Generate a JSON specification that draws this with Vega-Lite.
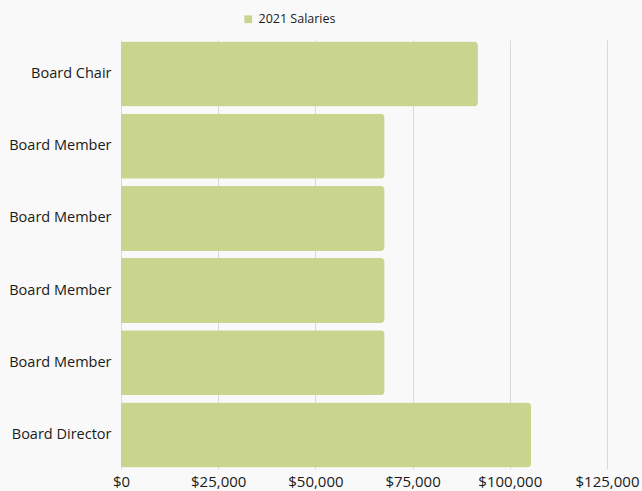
{
  "$schema": "https://vega.github.io/schema/vega-lite/v6.json",
  "autosize": {"type": "none"},
  "width": 486,
  "height": 429,
  "padding": {"left": 121, "top": 40, "right": 35, "bottom": 22},
  "background": "#f9f9f9",
  "config": {
    "view": {"stroke": null},
    "font": "Open Sans",
    "axis": {"labelFont": "Open Sans", "labelColor": "#1a1a1a", "labelFontSize": 14}
  },
  "data": {
    "values": [
      {"role": "Board Chair|0", "salary": 91800, "series": "2021 Salaries"},
      {"role": "Board Member|1", "salary": 67800, "series": "2021 Salaries"},
      {"role": "Board Member|2", "salary": 67800, "series": "2021 Salaries"},
      {"role": "Board Member|3", "salary": 67800, "series": "2021 Salaries"},
      {"role": "Board Member|4", "salary": 67800, "series": "2021 Salaries"},
      {"role": "Board Director|5", "salary": 105500, "series": "2021 Salaries"}
    ]
  },
  "mark": {"type": "bar", "cornerRadiusEnd": 4},
  "encoding": {
    "y": {
      "field": "role",
      "type": "nominal",
      "sort": null,
      "scale": {"paddingInner": 0.1, "paddingOuter": 0.02},
      "axis": {
        "title": null,
        "domain": false,
        "ticks": false,
        "labelPadding": 10,
        "labelFontSize": 14.5,
        "labelExpr": "split(datum.label, '|')[0]"
      }
    },
    "x": {
      "field": "salary",
      "type": "quantitative",
      "scale": {"domain": [0, 125000], "nice": false},
      "axis": {
        "title": null,
        "values": [0, 25000, 50000, 75000, 100000, 125000],
        "format": "$,.0f",
        "domain": false,
        "ticks": false,
        "grid": true,
        "gridColor": "#d9d9d9",
        "labelPadding": 5,
        "labelFontSize": 15,
        "labelFlush": false
      }
    },
    "color": {
      "field": "series",
      "type": "nominal",
      "scale": {"range": ["#c9d48f"]},
      "legend": {
        "title": null,
        "orient": "none",
        "legendX": 121,
        "legendY": -27,
        "symbolType": "square",
        "symbolSize": 60,
        "labelFontSize": 12.5,
        "labelOffset": 4,
        "labelFont": "Open Sans",
        "labelColor": "#1a1a1a",
        "symbolStrokeWidth": 0
      }
    }
  }
}
